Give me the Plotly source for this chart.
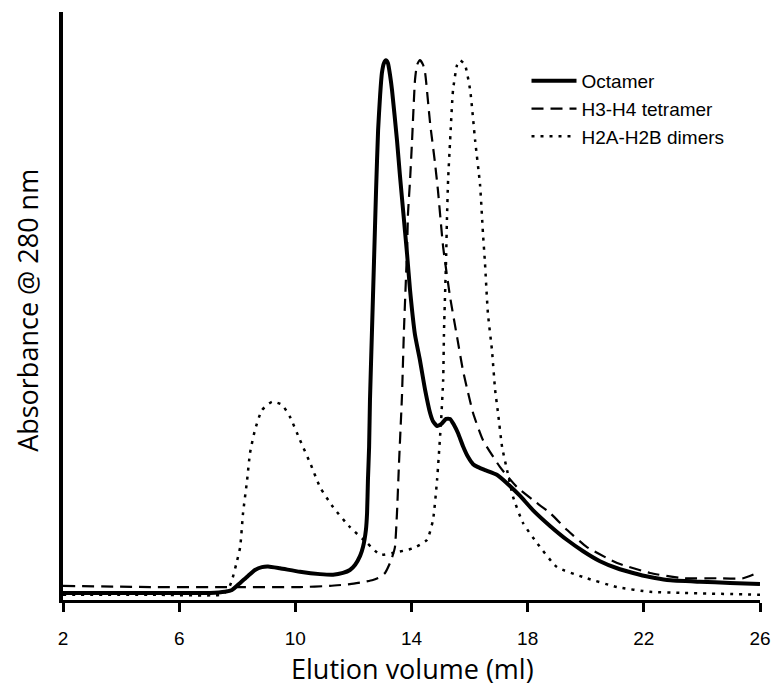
import plotly.graph_objects as go

# elution volume (ml) / relative absorbance
octamer_x = [2.00, 5.00, 7.06, 7.58, 7.82, 8.10, 8.37, 8.61, 8.85, 9.06, 9.47, 10.16, 10.85, 11.30,
             11.64, 11.88, 12.06, 12.23, 12.33, 12.43, 12.47, 12.50, 12.54, 12.57, 12.64, 12.71,
             12.78, 12.85, 12.92, 12.98, 13.05, 13.12, 13.19, 13.26, 13.33, 13.50, 13.60, 13.71,
             13.85, 13.95, 14.12, 14.29, 14.47, 14.64, 14.74, 14.88, 15.02, 15.19, 15.33, 15.46,
             15.60, 15.77, 15.95, 16.12, 16.29, 16.53, 16.94, 17.39, 17.74, 18.18, 18.77, 19.36,
             19.91, 20.49, 21.08, 21.63, 22.21, 22.80, 23.93, 24.97, 26.00]
octamer_y = [0.012, 0.012, 0.012, 0.014, 0.017, 0.029, 0.041, 0.051, 0.056, 0.057, 0.054, 0.048,
             0.044, 0.043, 0.046, 0.051, 0.060, 0.075, 0.090, 0.119, 0.148, 0.204, 0.260, 0.340,
             0.459, 0.578, 0.697, 0.799, 0.859, 0.896, 0.913, 0.918, 0.913, 0.893, 0.867, 0.782,
             0.723, 0.663, 0.587, 0.527, 0.451, 0.408, 0.357, 0.318, 0.304, 0.296, 0.299, 0.308,
             0.308, 0.298, 0.284, 0.262, 0.243, 0.231, 0.226, 0.221, 0.213, 0.194, 0.177, 0.153,
             0.126, 0.102, 0.083, 0.066, 0.054, 0.046, 0.039, 0.034, 0.031, 0.029, 0.027]

tetramer_x = [2.00, 5.00, 7.75, 10.16, 11.19, 11.88, 12.40, 12.67, 12.92, 13.09, 13.26, 13.36,
              13.43, 13.50, 13.57, 13.67, 13.74, 13.85, 13.88, 13.95, 14.02, 14.12, 14.19, 14.29,
              14.40, 14.47, 14.64, 14.81, 14.91, 15.09, 15.33, 15.57, 15.77, 15.95, 16.12, 16.46,
              17.05, 17.63, 18.18, 18.77, 19.36, 20.04, 21.08, 22.21, 23.35, 24.52, 25.42, 26.00]
tetramer_y = [0.024, 0.022, 0.022, 0.022, 0.024, 0.027, 0.031, 0.034, 0.039, 0.046, 0.063, 0.077,
              0.090, 0.148, 0.233, 0.345, 0.459, 0.600, 0.658, 0.714, 0.782, 0.884, 0.910, 0.918,
              0.910, 0.896, 0.811, 0.743, 0.697, 0.600, 0.515, 0.447, 0.391, 0.352, 0.318, 0.272,
              0.226, 0.192, 0.170, 0.148, 0.119, 0.090, 0.063, 0.046, 0.037, 0.037, 0.037, 0.048]

dimers_x = [2.00, 5.00, 7.41, 7.68, 7.82, 7.96, 8.10, 8.20, 8.34, 8.44, 8.61, 8.85, 9.20, 9.54,
            9.82, 10.16, 10.51, 10.85, 11.30, 11.88, 12.47, 12.92, 13.36, 14.05, 14.53, 14.74,
            14.88, 15.02, 15.09, 15.12, 15.19, 15.22, 15.26, 15.33, 15.43, 15.57, 15.67, 15.84,
            16.02, 16.19, 16.36, 16.46, 16.53, 16.63, 16.77, 16.88, 16.98, 17.12, 17.29, 17.50,
            17.84, 18.32, 19.01, 19.91, 21.08, 22.21, 23.35, 26.00]
dimers_y = [0.009, 0.009, 0.009, 0.017, 0.034, 0.060, 0.090, 0.148, 0.204, 0.250, 0.289, 0.323,
            0.337, 0.332, 0.311, 0.272, 0.233, 0.192, 0.158, 0.124, 0.097, 0.077, 0.080, 0.088,
            0.102, 0.136, 0.204, 0.306, 0.374, 0.459, 0.578, 0.646, 0.714, 0.782, 0.867, 0.910,
            0.918, 0.910, 0.867, 0.782, 0.706, 0.624, 0.573, 0.488, 0.425, 0.357, 0.318, 0.260,
            0.221, 0.175, 0.131, 0.097, 0.056, 0.039, 0.022, 0.014, 0.012, 0.009]

x_ticks = [2, 6, 10, 14, 18, 22, 26]

fig = go.Figure()
fig.add_trace(go.Scatter(x=octamer_x, y=octamer_y, mode='lines', name='Octamer',
                         line=dict(color='black', width=4, shape='spline', smoothing=0.5)))
fig.add_trace(go.Scatter(x=tetramer_x, y=tetramer_y, mode='lines', name='H3-H4 tetramer',
                         line=dict(color='black', width=2.2, dash='12px,7px', shape='spline', smoothing=0.5)))
fig.add_trace(go.Scatter(x=dimers_x, y=dimers_y, mode='lines', name='H2A-H2B dimers',
                         line=dict(color='black', width=2.5, dash='3px,6px', shape='spline', smoothing=0.5)))

fig.update_xaxes(range=[2, 26], tickvals=x_ticks, showline=True, linecolor='black', linewidth=3,
                 ticks='outside', ticklen=9, tickwidth=3, tickcolor='black', showgrid=False,
                 zeroline=False, ticklabelstandoff=10, automargin=False,
                 tickfont=dict(family='Liberation Sans, Arial', size=19, color='black'))
fig.update_yaxes(range=[0, 1], showline=True, linecolor='black', linewidth=4, showticklabels=False,
                 ticks='', showgrid=False, zeroline=False, automargin=False)

fig.add_annotation(text='Elution volume (ml)', xref='paper', yref='paper', x=0.501, y=-0.116,
                   xanchor='center', yanchor='middle', showarrow=False,
                   font=dict(family='Open Sans', size=27, color='black'))
fig.add_annotation(text='Absorbance @ 280 nm', xref='paper', yref='paper', x=-0.052, y=0.493,
                   xanchor='center', yanchor='middle', showarrow=False, textangle=-90,
                   font=dict(family='Open Sans', size=27, color='black'))

fig.update_layout(
    width=775, height=686, template='plotly_white',
    plot_bgcolor='white', paper_bgcolor='white',
    margin=dict(l=63, r=15, t=12, b=86),
    showlegend=True,
    legend=dict(x=0.665, y=0.915, xanchor='left', yanchor='top', bgcolor='rgba(0,0,0,0)',
                itemwidth=45, tracegroupgap=0,
                font=dict(family='Liberation Sans, Arial', size=19, color='black')),
)

fig.write_html("out.html", config={'displayModeBar': False},
               post_script="document.body.style.margin='0';")
